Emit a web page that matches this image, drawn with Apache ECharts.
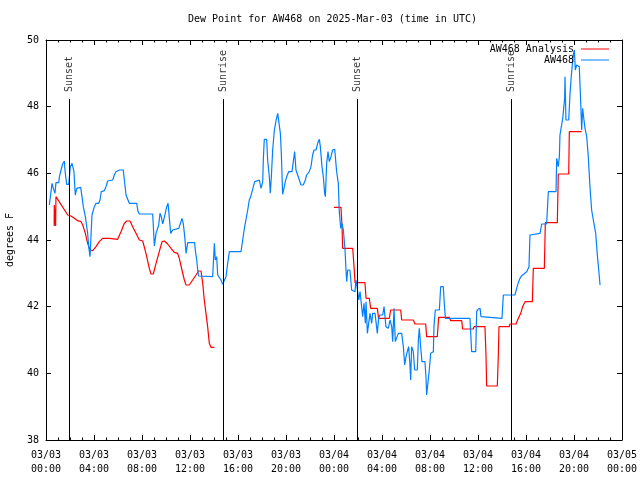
<!DOCTYPE html>
<html>
<head>
<meta charset="utf-8">
<script src="https://cdn.jsdelivr.net/npm/echarts@6/dist/echarts.min.js"></script>
<style>html,body{margin:0;padding:0;background:#fff}#c{width:640px;height:480px}</style>
</head>
<body>
<div id="c"></div>
<script>
// Hours since 03/03 00:00 UTC
var xTickLabels = ['03/03\n00:00','03/03\n04:00','03/03\n08:00','03/03\n12:00','03/03\n16:00','03/03\n20:00','03/04\n00:00','03/04\n04:00','03/04\n08:00','03/04\n12:00','03/04\n16:00','03/04\n20:00','03/05\n00:00'];

var sunTimes = [1.94, 14.78, 25.94, 38.81];
var sunLabels = ['Sunset', 'Sunrise', 'Sunset', 'Sunrise'];

// AW468 Analysis, first segment
var analysisHoursA = [0.68,0.69,0.80,0.83,0.92,1.81,2.08,2.36,2.64,2.92,3.06,3.28,3.47,3.67,3.89,4.17,4.44,4.72,5.28,5.42,5.97,6.25,6.53,6.72,7.00,7.22,7.50,7.78,8.06,8.33,8.61,8.75,8.94,9.17,9.44,9.67,9.86,10.14,10.42,10.69,10.97,11.11,11.33,11.53,11.67,11.94,12.22,12.50,12.72,12.92,13.06,13.19,13.33,13.47,13.61,13.75,14.03];
var analysisValuesA = [44.42,45.05,44.42,45.30,45.30,44.75,44.72,44.65,44.58,44.55,44.45,44.20,43.90,43.70,43.68,43.80,43.95,44.05,44.05,44.02,44.02,44.25,44.50,44.57,44.57,44.40,44.20,44.00,43.97,43.60,43.15,42.98,42.98,43.30,43.65,43.95,43.97,43.88,43.75,43.63,43.60,43.45,43.10,42.80,42.65,42.65,42.80,42.95,43.07,43.07,42.70,42.20,41.80,41.40,40.90,40.78,40.78];
// AW468 Analysis, second segment
var analysisHoursB = [24.00,24.58,24.67,24.72,25.56,25.67,25.75,26.58,26.67,26.94,27.06,27.61,27.72,28.61,28.72,29.56,29.64,30.61,30.75,31.64,31.72,32.61,32.72,33.61,33.72,34.64,34.72,35.61,35.67,36.58,36.67,36.72,37.61,37.69,37.75,38.61,38.67,39.17,39.36,39.56,39.72,39.92,40.53,40.61,41.53,41.61,42.61,42.69,43.56,43.61,44.64];
var analysisValuesB = [44.98,44.98,44.40,43.75,43.75,43.20,42.72,42.72,42.25,42.25,41.95,41.95,41.65,41.65,41.90,41.90,41.60,41.60,41.48,41.48,41.10,41.10,41.68,41.68,41.58,41.58,41.33,41.33,41.40,41.40,40.50,39.62,39.62,40.50,41.40,41.40,41.48,41.48,41.65,41.80,42.00,42.15,42.15,43.15,43.15,44.52,44.52,45.98,45.98,47.25,47.25];

// AW468 observations
var obsHours = [0.28,0.50,0.61,0.75,0.83,1.06,1.11,1.25,1.39,1.53,1.58,1.72,1.89,1.94,2.03,2.17,2.28,2.33,2.44,2.56,2.67,2.89,3.00,3.11,3.28,3.47,3.56,3.67,3.75,3.83,4.03,4.17,4.39,4.50,4.61,4.86,5.00,5.14,5.22,5.56,5.69,5.83,6.11,6.44,6.53,6.67,6.81,6.94,7.08,7.28,7.56,7.67,7.78,8.06,8.89,9.03,9.17,9.31,9.39,9.50,9.61,9.72,9.86,9.94,10.06,10.17,10.28,10.39,10.47,10.56,10.72,11.06,11.19,11.33,11.44,11.56,11.67,11.81,12.39,12.44,12.56,12.64,12.72,13.89,14.03,14.11,14.22,14.31,14.44,14.58,14.72,14.86,15.00,15.14,15.28,16.25,16.39,16.53,16.67,16.81,16.94,17.06,17.17,17.28,17.39,17.50,17.78,17.92,18.06,18.11,18.19,18.39,18.47,18.61,18.69,18.78,18.89,19.03,19.17,19.31,19.44,19.53,19.61,19.72,19.83,19.94,20.06,20.22,20.50,20.61,20.72,20.83,20.97,21.11,21.25,21.44,21.61,21.72,21.94,22.08,22.22,22.33,22.50,22.64,22.78,22.86,23.00,23.11,23.22,23.28,23.39,23.50,23.61,23.75,23.89,24.06,24.11,24.22,24.36,24.44,24.56,24.67,24.78,24.92,25.00,25.06,25.14,25.33,25.47,25.75,25.83,25.94,26.06,26.17,26.31,26.39,26.50,26.61,26.67,26.78,26.89,27.00,27.14,27.22,27.42,27.61,27.72,27.83,28.06,28.17,28.25,28.33,28.53,28.67,28.81,28.89,29.00,29.11,29.22,29.36,29.64,29.78,29.89,30.00,30.11,30.22,30.33,30.39,30.47,30.61,30.72,30.94,31.03,31.11,31.22,31.33,31.58,31.67,31.72,31.86,31.94,32.06,32.28,32.33,32.44,32.78,32.89,33.11,33.19,33.28,35.33,35.47,35.81,35.89,36.00,36.17,36.25,36.36,38.00,38.11,39.08,39.22,39.36,39.50,39.64,39.78,40.06,40.25,40.33,41.17,41.31,41.72,41.86,42.50,42.56,42.69,42.78,42.83,42.97,43.06,43.22,43.25,43.33,43.56,43.67,43.78,43.89,43.94,44.03,44.11,44.22,44.33,44.44,44.56,44.64,44.72,44.83,44.92,45.06,45.19,45.33,45.47,45.61,45.69,45.81,45.89,45.97,46.06,46.17];
var obsValues = [45.05,45.70,45.55,45.40,45.72,45.72,45.88,46.10,46.28,46.37,46.10,45.67,45.67,45.85,46.20,46.30,46.30,46.05,45.35,45.55,45.58,45.58,45.30,45.00,44.70,44.20,43.80,43.50,43.50,44.75,45.00,45.10,45.10,45.20,45.45,45.48,45.60,45.77,45.80,45.80,45.95,46.05,46.10,46.10,45.80,45.35,45.35,45.10,45.08,45.10,45.10,44.85,44.78,44.78,44.78,43.82,44.20,44.25,44.45,44.80,44.70,44.48,44.48,44.80,45.00,45.10,44.65,44.20,44.15,44.30,44.35,44.35,44.48,44.65,44.50,44.10,43.60,43.92,43.92,43.70,43.40,43.10,42.92,42.90,43.90,43.40,43.50,42.95,42.90,42.80,42.67,42.67,42.90,43.30,43.65,43.65,44.00,44.35,44.40,44.90,45.20,45.30,45.45,45.60,45.75,45.80,45.80,45.55,45.75,46.40,47.02,47.02,46.40,45.90,45.40,45.90,46.70,47.30,47.58,47.80,47.83,47.20,46.60,45.37,45.55,45.75,45.90,46.05,46.05,46.35,46.65,46.10,46.05,45.80,45.65,45.65,45.80,45.95,46.05,46.20,46.55,46.70,46.70,46.90,47.02,46.80,46.20,45.90,45.40,45.30,46.30,46.65,46.35,46.50,46.70,46.72,46.70,46.05,45.70,44.85,44.35,44.50,44.30,43.70,43.10,42.75,43.10,43.10,42.50,42.45,42.80,42.55,42.20,42.45,42.50,41.70,42.10,41.50,42.15,41.20,41.50,41.80,41.50,41.80,41.80,41.20,41.65,41.75,41.75,42.00,42.05,41.40,41.35,41.60,41.40,40.95,41.95,40.95,40.95,41.20,41.20,40.80,40.25,40.50,40.55,40.80,40.25,39.80,40.80,40.65,40.10,40.10,41.00,41.35,40.80,40.35,40.35,39.85,39.35,39.35,40.10,40.60,40.65,41.40,41.90,41.90,42.60,42.60,42.10,41.65,41.65,40.65,40.65,41.85,41.92,41.95,41.70,41.65,41.65,42.35,42.35,42.55,42.72,42.85,42.93,42.95,43.05,43.20,44.15,44.20,44.48,44.48,45.45,45.45,46.45,46.20,46.50,47.15,47.20,47.65,48.25,48.90,47.60,47.60,48.40,48.95,48.95,49.55,49.70,49.10,49.25,49.30,49.20,48.10,47.30,47.95,47.60,47.35,47.10,46.50,45.60,44.90,44.60,44.65,44.20,43.80,43.45,43.10,42.65];

var SUN_LINE_TOP = 48.23;
var FONT = 'DejaVu Sans Mono';

function pairs(xs, ys) { return xs.map(function (x, i) { return [x, ys[i]]; }); }
var analysisData = pairs(analysisHoursA, analysisValuesA).concat([[14.5, '-']]).concat(pairs(analysisHoursB, analysisValuesB));
var obsData = pairs(obsHours, obsValues);

var chart = echarts.init(document.getElementById('c'), null, { renderer: 'canvas' });

function xAxisCfg(pos, showLabel) {
  return {
    type: 'value', position: pos, min: 0, max: 48, interval: 4,
    axisLine: { show: true, onZero: false, lineStyle: { color: '#000', width: 1 } },
    axisTick: { show: true, inside: true, length: 5, lineStyle: { color: '#000' } },
    minorTick: { show: true, splitNumber: 4, length: 2.5, lineStyle: { color: '#000' } },
    splitLine: { show: false },
    axisLabel: {
      show: showLabel, margin: 8, color: '#000', fontFamily: FONT, fontSize: 10, lineHeight: 14,
      formatter: function (v) { return xTickLabels[Math.round(v / 4)]; }
    }
  };
}
function yAxisCfg(pos, showLabel) {
  return {
    type: 'value', position: pos, min: 38, max: 50, interval: 2,
    name: showLabel ? 'degrees F' : '', nameLocation: 'middle', nameGap: 31,
    nameTextStyle: { color: '#000', fontFamily: FONT, fontSize: 10 },
    axisLine: { show: true, onZero: false, lineStyle: { color: '#000', width: 1 } },
    axisTick: { show: true, inside: true, length: 5, lineStyle: { color: '#000' } },
    splitLine: { show: false },
    axisLabel: { show: showLabel, margin: 7, color: '#000', fontFamily: FONT, fontSize: 10 }
  };
}

chart.setOption({
  animation: false,
  backgroundColor: '#fff',
  title: {
    text: 'Dew Point for AW468 on 2025-Mar-03 (time in UTC)',
    left: 188, top: 14, padding: 0,
    textStyle: { color: '#000', fontFamily: FONT, fontSize: 10, fontWeight: 'normal' }
  },
  legend: {
    right: 31, top: 44, orient: 'vertical', align: 'right', padding: 0,
    icon: 'rect', itemWidth: 28, itemHeight: 1, itemGap: 1,
    textStyle: { color: '#000', fontFamily: FONT, fontSize: 10, padding: [0, 2, 0, 0] },
    data: ['AW468 Analysis', 'AW468']
  },
  grid: { left: 46, right: 18, top: 40, bottom: 40, containLabel: false, outerBoundsMode: 'none' },
  xAxis: [xAxisCfg('bottom', true), xAxisCfg('top', false)],
  yAxis: [yAxisCfg('left', true), yAxisCfg('right', false)],
  series: [
    {
      name: 'sun', type: 'scatter', symbolSize: 0, silent: true,
      data: sunTimes.map(function (t, i) { return { value: [t, SUN_LINE_TOP], name: sunLabels[i] }; }),
      label: {
        show: true, position: 'top', distance: 7, rotate: 90, align: 'left', verticalAlign: 'middle',
        formatter: function (p) { return p.name; },
        color: '#000', fontFamily: FONT, fontSize: 10
      },
      markLine: {
        silent: true, symbol: 'none', animation: false,
        label: { show: false },
        lineStyle: { color: '#000', width: 1, type: 'solid' },
        data: sunTimes.map(function (t) { return [{ coord: [t, 38] }, { coord: [t, SUN_LINE_TOP] }]; })
      }
    },
    {
      name: 'AW468 Analysis', type: 'line', symbol: 'none', showSymbol: false,
      data: analysisData, connectNulls: false,
      lineStyle: { color: '#ff0000', width: 1.2 }, itemStyle: { color: '#ff0000' }
    },
    {
      name: 'AW468', type: 'line', symbol: 'none', showSymbol: false,
      data: obsData,
      lineStyle: { color: '#0080ff', width: 1.2 }, itemStyle: { color: '#0080ff' }
    }
  ]
});
</script>
</body>
</html>
